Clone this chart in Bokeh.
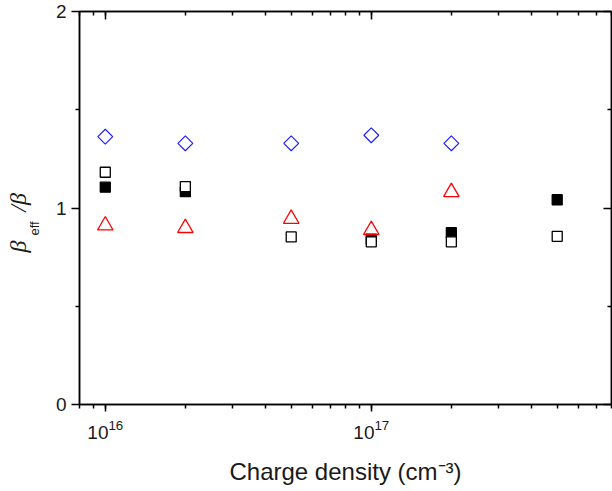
import math
from bokeh.plotting import figure
from bokeh.models import (Range1d, LogAxis, LinearAxis, FixedTicker, LogTicker, Title)
from bokeh.embed import file_html
from bokeh.resources import INLINE

# ---- data ----
x_all = [1e16, 2e16, 5e16, 1e17, 2e17, 5e17]
x_five = [1e16, 2e16, 5e16, 1e17, 2e17]

diamond_y = [1.363, 1.329, 1.329, 1.370, 1.329]
open_sq_y = [1.182, 1.109, 0.853, 0.828, 0.828, 0.856]
filled_sq_x = [1e16, 2e16, 1e17, 2e17, 5e17]
filled_sq_y = [1.106, 1.083, 0.842, 0.874, 1.042]
triangle_y = [0.911, 0.898, 0.945, 0.888, 1.081]

y_major = [0, 1, 2]
y_minor = [0.5, 1.5]

x_title = "Charge density (cm\u207b\u00b3)"
y_title_main = "\u03b2\u2003\u2009/\u03b2"
y_title_sub = "eff"

FONT = "Liberation Sans"
TXT = "#1a1a1a"

p = figure(width=612, height=491, x_axis_type="log",
           x_range=Range1d(8e15, 8e17), y_range=Range1d(0, 2),
           output_backend="svg", toolbar_location=None,
           min_border_left=79, min_border_right=1, min_border_top=11,
           min_border_bottom=87)
p.grid.visible = False
p.outline_line_color = "black"
p.outline_line_width = 1.5
p.background_fill_color = "white"
p.border_fill_color = "white"


def style_axis(ax, t_in, t_out, m_in, m_out):
    ax.major_tick_in = t_in
    ax.major_tick_out = t_out
    ax.minor_tick_in = m_in
    ax.minor_tick_out = m_out
    ax.axis_line_width = 1.5
    ax.major_tick_line_width = 1.5
    ax.minor_tick_line_width = 1.5
    ax.axis_line_color = "black"
    ax.major_tick_line_color = "black"
    ax.minor_tick_line_color = "black"


# bottom axis
xa = p.xaxis[0]
xa.ticker = LogTicker(num_minor_ticks=10)
style_axis(xa, 0, 7, 0, 4)
xa.major_label_text_font = FONT
xa.major_label_text_font_size = "19px"
xa.major_label_text_color = TXT
xa.major_label_standoff = 8
xa.axis_label = x_title
xa.axis_label_text_font = FONT
xa.axis_label_text_font_size = "24px"
xa.axis_label_text_font_style = "normal"
xa.axis_label_text_color = TXT
xa.axis_label_standoff = 16

# left axis
ya = p.yaxis[0]
ya.ticker = FixedTicker(ticks=y_major, minor_ticks=y_minor)
style_axis(ya, 0, 8, 0, 4)
ya.major_label_text_font = FONT
ya.major_label_text_font_size = "19px"
ya.major_label_text_color = TXT
ya.major_label_standoff = 5

# y title: subscript "eff" (inner) and "beta / beta" (outer)
p.add_layout(Title(text=y_title_sub, align="left", offset=169, standoff=17,
                   vertical_align="top", text_font=FONT,
                   text_font_style="normal", text_font_size="13px",
                   text_color=TXT), "left")
p.add_layout(Title(text=y_title_main, align="left", offset=152, standoff=-25,
                   vertical_align="bottom", text_font="Liberation Serif",
                   text_font_style="italic", text_font_size="24px",
                   text_color=TXT), "left")

# top axis (ticks inward, no labels)
ta = LogAxis(ticker=LogTicker(num_minor_ticks=10))
style_axis(ta, 8, 0, 4, 0)
ta.major_label_text_font_size = "0px"
ta.major_label_text_alpha = 0
ta.major_label_standoff = 0
p.add_layout(ta, "above")

# right axis (ticks inward, no labels)
ra = LinearAxis(ticker=FixedTicker(ticks=y_major, minor_ticks=y_minor))
style_axis(ra, 8, 0, 4, 0)
ra.major_label_text_font_size = "0px"
ra.major_label_text_alpha = 0
ra.major_label_standoff = 0
p.add_layout(ra, "right")

# ---- markers ----
p.scatter(filled_sq_x, filled_sq_y, marker="square", size=10,
          fill_color="black", line_color="black", line_width=1.3)
p.scatter(x_all, open_sq_y, marker="square", size=10,
          fill_color="white", line_color="black", line_width=1.3)
p.scatter(x_five, triangle_y, marker="triangle", size=15.5,
          fill_color=None, line_color="#ff0000", line_width=1.3)
p.scatter(x_five, diamond_y, marker="square", size=10.5, angle=math.pi / 4,
          fill_color=None, line_color="#1f1fff", line_width=1.2)

open("out.html", "w").write(file_html(p, INLINE))
